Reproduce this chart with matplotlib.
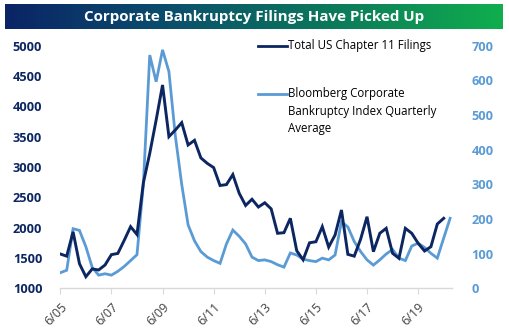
import numpy as np
import matplotlib
matplotlib.use("Agg")
import matplotlib.pyplot as plt
from matplotlib.colors import LinearSegmentedColormap
from matplotlib.lines import Line2D

# ---- data (quarterly, starting 6/05) ----
chapter11 = [1566, 1530, 1930, 1405, 1191, 1320, 1302, 1384, 1555, 1575,
             1790, 2016, 1887, 2740, 3226, 3775, 4352, 3500, 3610, 3731,
             3363, 3440, 3150, 3060, 2990, 2695, 2710, 2875, 2566, 2366,
             2468, 2340, 2410, 2310, 1907, 1917, 2154, 1620, 1470, 1750,
             1768, 2016, 1680, 1879, 2291, 1560, 1530, 1810, 2180, 1604,
             1907, 1989, 1577, 1495, 1989, 1907, 1742, 1615, 1686, 2060,
             2154]
bloomberg = [45, 52, 172, 167, 120, 60, 38, 42, 38, 49,
             63, 80, 97, 300, 673, 596, 688, 625, 440, 300,
             183, 137, 106, 90, 80, 72, 128, 168, 150, 128,
             90, 80, 82, 77, 68, 61, 102, 96, 84, 80,
             77, 87, 82, 96, 192, 177, 135, 106, 82, 67,
             82, 99, 112, 87, 80, 122, 130, 118, 101, 87,
             145, 202]
tick_labels = ["6/05", "6/07", "6/09", "6/11", "6/13", "6/15", "6/17", "6/19"]
left_ticks = [1000, 1500, 2000, 2500, 3000, 3500, 4000, 4500, 5000]
right_ticks = [0, 100, 200, 300, 400, 500, 600, 700]
legend_labels = ["Total US Chapter 11 Filings",
                 "Bloomberg Corporate\nBankruptcy Index Quarterly\nAverage"]
title = "Corporate Bankruptcy Filings Have Picked Up"

DARK = "#0c2661"
LIGHT = "#5b9bd5"

W, H = 509, 332
fig = plt.figure(figsize=(W / 100, H / 100), dpi=100)

# ---- title banner with gradient ----
bax = fig.add_axes([5 / W, 1 - 29 / H, 498 / W, 25 / H])
cmap = LinearSegmentedColormap.from_list("ban", ["#0a2466", "#0b4f6c", "#0c7a5a", "#10ae4e"])
grad = np.linspace(0, 1, 256).reshape(1, -1)
bax.imshow(grad, aspect="auto", cmap=cmap, extent=[0, 1, 0, 1])
bax.set_axis_off()
bax.text(0.5, 0.48, title, color="white", ha="center", va="center",
         fontsize=10.9, fontweight="bold", family="Open Sans", transform=bax.transAxes)

# ---- main axes ----
x0, x1 = 60.3, 452
y_top, y_bot = 45.7, 288.3
ax = fig.add_axes([x0 / W, 1 - y_bot / H, (x1 - x0) / W, (y_bot - y_top) / H])
ax2 = ax.twinx()

xd = np.arange(len(chapter11))
xb = np.arange(len(bloomberg))
per_q = 6.39
xmax = (x1 - x0) / per_q

ax2.plot(xb, bloomberg, color=LIGHT, lw=2.0, solid_joinstyle="miter", zorder=2)
ax.plot(xd, chapter11, color=DARK, lw=2.1, solid_joinstyle="miter", zorder=3)
ax.set_zorder(ax2.get_zorder() + 1)
ax.patch.set_visible(False)

ax.set_xlim(0, xmax)
ax.set_ylim(1000, 5000)
ax2.set_ylim(0, 700)

ax.set_xticks(np.arange(len(tick_labels)) * 8)
ax.set_xticklabels(tick_labels, rotation=45, ha="right", va="top",
                   rotation_mode="anchor", fontsize=9, color="#404040", family="Open Sans")
ax.set_yticks(left_ticks)
ax.set_yticklabels([str(v) for v in left_ticks], fontsize=9.2, fontweight="bold",
                   color=DARK, family="Open Sans")
ax2.set_yticks(right_ticks)
ax2.set_yticklabels([str(v) for v in right_ticks], fontsize=9.2, fontweight="bold",
                    color=LIGHT, family="Open Sans")

for a in (ax, ax2):
    for s in a.spines.values():
        s.set_visible(False)
ax.spines["bottom"].set_visible(True)
ax.spines["bottom"].set_color("#d9d9d9")
ax.spines["bottom"].set_linewidth(1.0)
ax.tick_params(axis="x", length=4, color="#d9d9d9", pad=5)
ax.tick_params(axis="y", length=0, pad=13)
ax2.tick_params(axis="y", length=0, pad=14)

# ---- legend (manual placement) ----
def fx(px):
    return px / W

def fy(py):
    return 1 - py / H

fig.add_artist(Line2D([fx(258), fx(287)], [fy(45.7), fy(45.7)], color=DARK, lw=2.0))
fig.text(fx(288), fy(45.7), legend_labels[0], fontsize=8.3, family="Open Sans",
         color="black", ha="left", va="center")
fig.add_artist(Line2D([fx(258), fx(287)], [fy(94), fy(94)], color=LIGHT, lw=2.0))
fig.text(fx(288), fy(94) + 6.5 / H, legend_labels[1], fontsize=8.3, family="Open Sans",
         color="black", ha="left", va="top", linespacing=1.45)

fig.savefig("out.png", dpi=100)
